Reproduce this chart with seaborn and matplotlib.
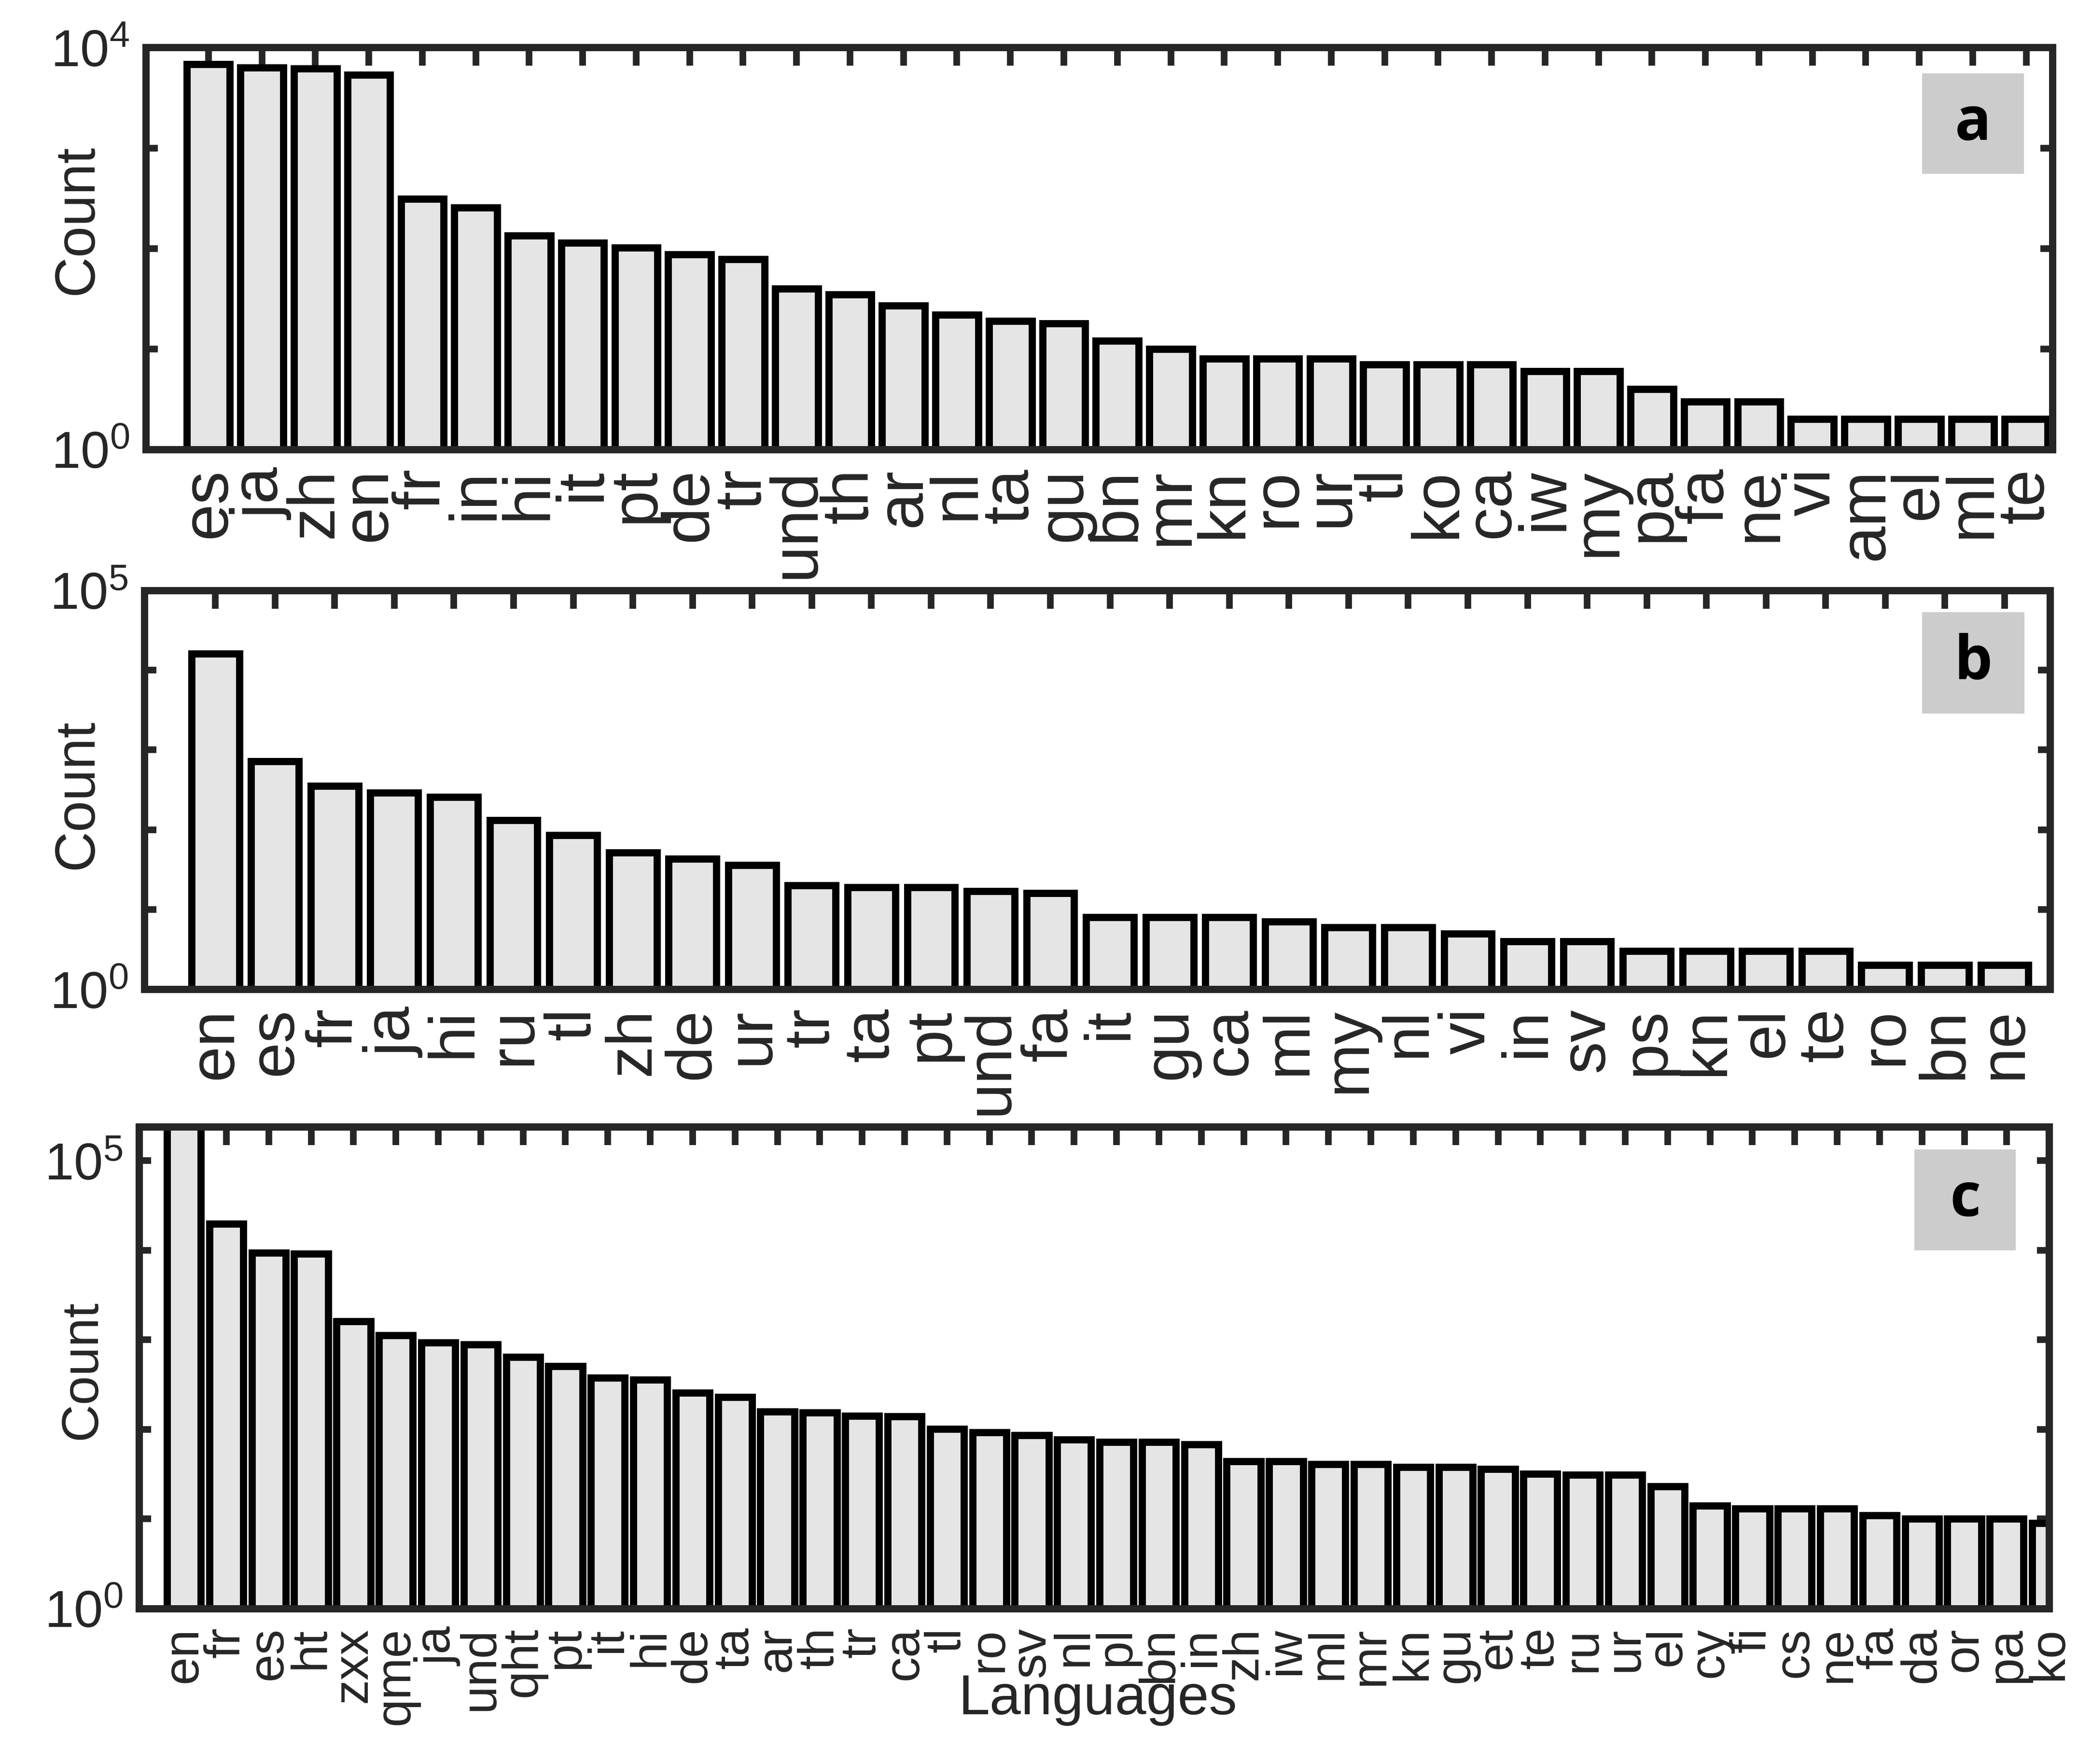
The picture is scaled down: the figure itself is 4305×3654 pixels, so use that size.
import numpy as np
import pandas as pd
import matplotlib
matplotlib.use('Agg')
import matplotlib.pyplot as plt
import seaborn as sns
from matplotlib.patches import Rectangle
from matplotlib.ticker import NullLocator

# panel a
langs_a = ['es', 'ja', 'zh', 'en', 'fr', 'in', 'hi', 'it', 'pt', 'de', 'tr', 'und', 'th', 'ar',
           'nl', 'ta', 'gu', 'bn', 'mr', 'kn', 'ro', 'ur', 'tl', 'ko', 'ca', 'iw', 'my', 'pa',
           'fa', 'ne', 'vi', 'am', 'el', 'ml', 'te']
counts_a = [6830, 6280, 6170, 5345, 313, 254, 134, 114, 102, 87, 78, 40, 35, 27,
            22, 19, 18, 12, 10, 8, 8, 8, 7, 7, 7, 6, 6, 4,
            3, 3, 2, 2, 2, 2, 2]

# panel b
langs_b = ['en', 'es', 'fr', 'ja', 'hi', 'ru', 'tl', 'zh', 'de', 'ur', 'tr', 'ta', 'pt', 'und',
           'fa', 'it', 'gu', 'ca', 'ml', 'my', 'nl', 'vi', 'in', 'sv', 'ps', 'kn', 'el', 'te',
           'ro', 'bn', 'ne']
counts_b = [16150, 719, 356, 290, 258, 132, 86, 52, 43, 36, 20, 19, 19, 17,
            16, 8, 8, 8, 7, 6, 6, 5, 4, 4, 3, 3, 3, 3,
            2, 2, 2]

# panel c (en goes past the top of the axis)
langs_c = ['en', 'fr', 'es', 'ht', 'zxx', 'qme', 'ja', 'und', 'qht', 'pt', 'it', 'hi', 'de', 'ta',
           'ar', 'th', 'tr', 'ca', 'tl', 'ro', 'sv', 'nl', 'pl', 'bn', 'in', 'zh', 'iw', 'ml',
           'mr', 'kn', 'gu', 'et', 'te', 'ru', 'ur', 'el', 'cy', 'fi', 'cs', 'ne', 'fa', 'da',
           'or', 'pa', 'ko']
counts_c = [300000, 19850, 9380, 9180, 1620, 1125, 928, 889, 645, 509, 377, 361, 257, 230,
            158, 154, 141, 139, 101, 93, 86, 77, 72, 72, 68, 44, 44, 41,
            41, 38, 38, 36, 32, 31, 31, 23, 14, 13, 13, 13, 11, 10,
            10, 10, 9]

sns.set_style('ticks')
plt.rcParams['font.family'] = ['Liberation Sans', 'DejaVu Sans']
plt.rcParams['mathtext.fontset'] = 'custom'
plt.rcParams['mathtext.rm'] = 'Liberation Sans'

dark = '#262626'
fig = plt.figure(figsize=(14.35, 12.1833), dpi=300)


def panel(rect, langs, counts, top_exp, ymax, xlim, letter, box, lab_size, ylab_size, ylab_xy):
    ax = fig.add_axes(rect)
    df = pd.DataFrame({'lang': langs, 'count': counts})
    sns.barplot(data=df, x='lang', y='count', color='#e5e5e5', saturation=1,
                edgecolor='black', linewidth=3.6, width=0.8, ax=ax)
    ax.set_yscale('log')
    ax.set_ylim(1, ymax)
    ax.set_xlim(*xlim)
    ticks = [10.0 ** k for k in range(0, top_exp + 1)]
    ax.set_yticks(ticks)
    ax.set_yticklabels(['$\\mathregular{10^{0}}$'] + [''] * (top_exp - 1) +
                       ['$\\mathregular{10^{%d}}$' % top_exp])
    ax.yaxis.set_minor_locator(NullLocator())
    for s in ax.spines.values():
        s.set_visible(True)
        s.set_linewidth(3.6)
        s.set_color(dark)
    ax.tick_params(axis='x', direction='in', top=True, bottom=True, length=9, width=3.3,
                   color=dark, labelrotation=90, labelsize=lab_size, labelcolor=dark, pad=9)
    ax.tick_params(axis='y', direction='in', left=True, right=True, length=6, width=3.3,
                   color=dark, labelsize=26, labelcolor=dark, pad=8)
    ax.set_xlabel('')
    ax.set_ylabel('Count', fontsize=ylab_size, color=dark)
    ax.yaxis.set_label_coords(*ylab_xy)
    ax.add_patch(Rectangle((box[0], box[1]), box[2], box[3], transform=ax.transAxes,
                           facecolor='#cccccc', edgecolor='none', zorder=5))
    ax.text(box[0] + box[2] / 2, box[1] + box[3] / 2, letter, transform=ax.transAxes,
            ha='center', va='center', fontsize=30, fontweight='bold', family='Open Sans',
            color='black', zorder=6)
    return ax


ax_a = panel([0.0702, 0.745, 0.9175, 0.2278], langs_a, counts_a, 4, 1e4, (-1.17, 34.49),
             'a', (0.9316, 0.686, 0.0534, 0.25), 33, 28, (-0.022, 0.573))
ax_b = panel([0.0695, 0.4391, 0.917, 0.226], langs_b, counts_b, 5, 1e5, (-1.19, 30.76),
             'b', (0.933, 0.691, 0.0535, 0.2545), 32, 28, (-0.0213, 0.49))
ax_c = panel([0.0669, 0.0881, 0.9192, 0.2731], langs_c, counts_c, 5, 2.4e5, (-1.06, 44.0),
             'c', (0.9295, 0.7435, 0.053, 0.2095), 25, 26, (-0.017, 0.496))

ax_c.set_xlabel('Languages', fontsize=28, color=dark)
ax_c.xaxis.set_label_coords(0.502, -0.133)

plt.savefig('out.png', dpi=300)
